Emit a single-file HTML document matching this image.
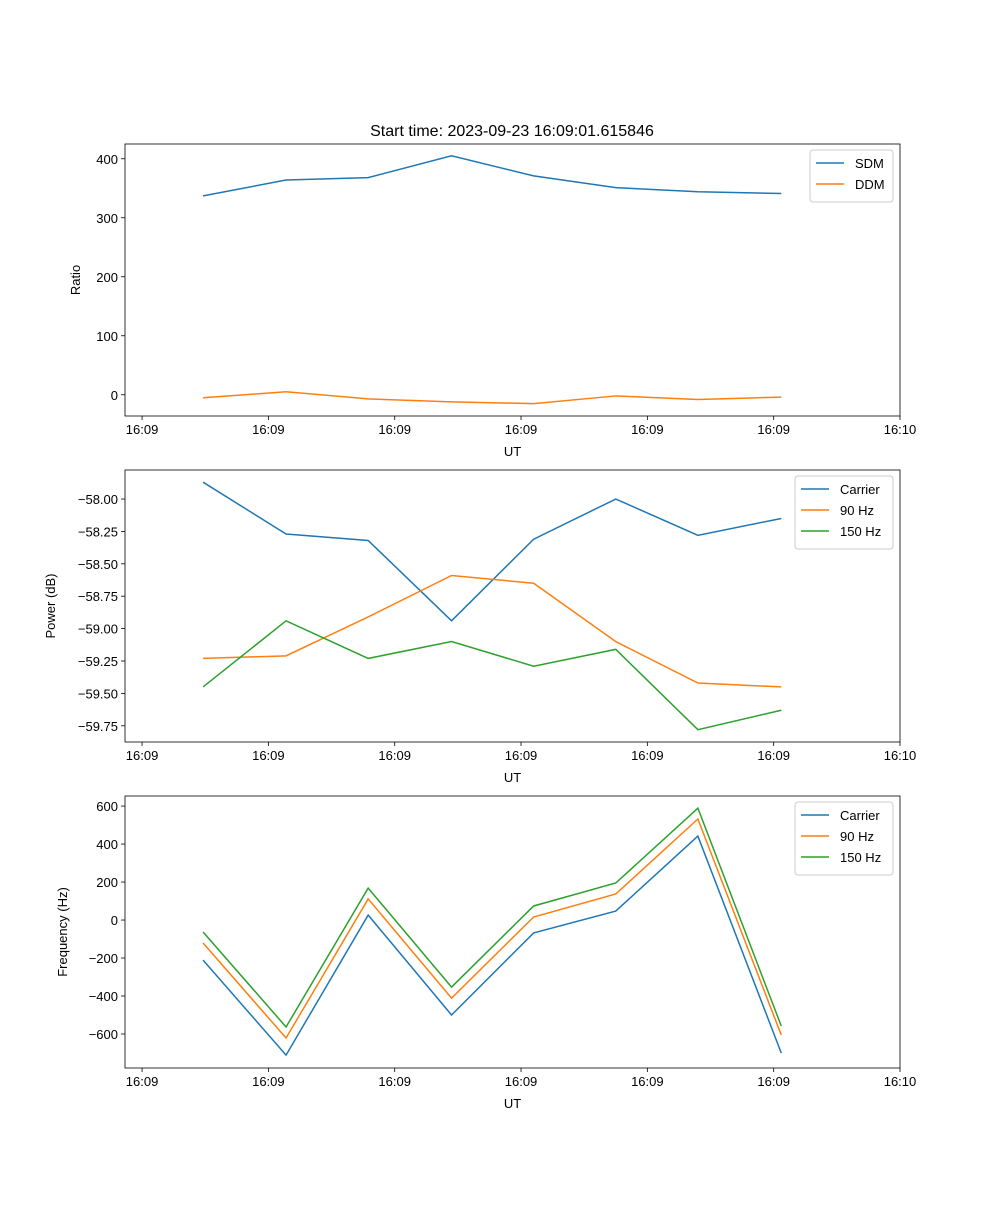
<!DOCTYPE html>
<html><head><meta charset="utf-8"><style>
body{margin:0;background:#fff}
svg text{font-family:"Liberation Sans","DejaVu Sans",sans-serif;fill:#000}
</style></head><body>
<svg id="fig" width="1000" height="1200" viewBox="0 0 1000 1200" xmlns="http://www.w3.org/2000/svg">
<rect width="1000" height="1200" fill="#fff"/>
<text x="512" y="136" font-size="16" text-anchor="middle">Start time: 2023-09-23 16:09:01.615846</text>
</svg>
<script>
// time in seconds after 16:09:00
const times = [4.83, 11.4, 17.9, 24.5, 31.0, 37.5, 44.0, 50.6];
const xTickVals = [0, 10, 20, 30, 40, 50, 60];
const xTickLabels = ['16:09','16:09','16:09','16:09','16:09','16:09','16:10'];
const sdm = [337, 364, 368, 405, 371, 351, 344, 341];
const ddm = [-5, 5, -7, -12, -15, -2, -8, -4];
const powCarrier = [-57.87, -58.27, -58.32, -58.94, -58.31, -58.00, -58.28, -58.15];
const pow90 = [-59.23, -59.21, -58.91, -58.59, -58.65, -59.10, -59.42, -59.45];
const pow150 = [-59.45, -58.94, -59.23, -59.10, -59.29, -59.16, -59.78, -59.63];
const freqCarrier = [-211, -711, 26, -500, -68, 47, 442, -700];
const freq90 = [-121, -621, 111, -411, 16, 137, 532, -605];
const freq150 = [-63, -563, 168, -353, 74, 195, 589, -558];
const ticks1 = [0, 100, 200, 300, 400];
const ticks2 = [-58.00, -58.25, -58.50, -58.75, -59.00, -59.25, -59.50, -59.75];
const ticks3 = [-600, -400, -200, 0, 200, 400, 600];

const NS = 'http://www.w3.org/2000/svg';
const svg = document.getElementById('fig');
const C = ['#1f77b4', '#ff7f0e', '#2ca02c'];
function mk(tag, attrs, parent) {
  const e = document.createElementNS(NS, tag);
  for (const k in attrs) e.setAttribute(k, attrs[k]);
  (parent || svg).appendChild(e);
  return e;
}
const L = 125, R = 900;
const xs = t => L + (t + 1.35) / 61.35 * (R - L) ;
function panel(idx, top, bottom, ymin, ymax, yticks, fmt, ylabel, series, names, legendW) {
  const g = mk('g', {});
  
  
  const ys = v => bottom - (v - ymin) / (ymax - ymin) * (bottom - top);
  // x ticks
  xTickVals.forEach((v, i) => {
    const x = xs(v);
    const t = mk('line', {x1: x, x2: x, y1: bottom, y2: bottom + 4, stroke: '#000', 'stroke-width': 0.8}, g);
    
    
    const tx = mk('text', {x: x, y: bottom + 18, 'font-size': 13, 'text-anchor': 'middle'}, g);
    tx.textContent = xTickLabels[i];
    
    
  });
  const xl = mk('text', {x: (L + R) / 2, y: bottom + 40, 'font-size': 13, 'text-anchor': 'middle'}, g);
  xl.textContent = 'UT';
  
  
  yticks.forEach(v => {
    const y = ys(v);
    const t = mk('line', {x1: L - 4, x2: L, y1: y, y2: y, stroke: '#000', 'stroke-width': 0.8}, g);
    
    
    const tx = mk('text', {x: L - 7, y: y + 5, 'font-size': 13, 'text-anchor': 'end'}, g);
    tx.textContent = fmt(v);
    
    
  });
  const yl = mk('text', {x: 0, y: 0, 'font-size': 13, 'text-anchor': 'middle', transform: `translate(${idx === 2 ? 55 : 80},${(top + bottom) / 2}) rotate(-90)`}, g);
  if (idx === 3) yl.setAttribute('transform', `translate(67,${(top + bottom) / 2}) rotate(-90)`);
  yl.textContent = ylabel;
  
  
  series.forEach((s, i) => {
    const p = mk('polyline', {points: s.map((v, j) => xs(times[j]) + ',' + ys(v)).join(' '), fill: 'none', stroke: C[i], 'stroke-width': 1.5}, g);
    
    
  });
  const fr = mk('rect', {x: L, y: top, width: R - L, height: bottom - top, fill: 'none', stroke: '#000', 'stroke-width': 0.8}, g);
  
  
  // legend
  const lx = R - 7 - legendW, ly = top + 6;
  const lg = mk('g', {}, g);
  
  
  mk('rect', {x: lx, y: ly, width: legendW, height: 10 + names.length * 21, rx: 3, fill: '#fff', 'fill-opacity': 0.8, stroke: '#ccc'}, lg);
  names.forEach((n, i) => {
    const y = ly + 13 + i * 21;
    const ln = mk('line', {x1: lx + 6, x2: lx + 34, y1: y, y2: y, stroke: C[i], 'stroke-width': 1.5}, lg);
    
    
    const t = mk('text', {x: lx + 45, y: y + 5, 'font-size': 13}, lg);
    t.textContent = n;
    
    
  });
}
panel(1, 144, 416, -36, 425, ticks1, v => String(v), 'Ratio', [sdm, ddm], ['SDM', 'DDM'], 83);
panel(2, 470, 742, -59.875, -57.776, ticks2, v => v.toFixed(2).replace('-', '\u2212'), 'Power (dB)', [powCarrier, pow90, pow150], ['Carrier', '90 Hz', '150 Hz'], 98);
panel(3, 796, 1068, -779, 653, ticks3, v => String(v).replace('-', '\u2212'), 'Frequency (Hz)', [freqCarrier, freq90, freq150], ['Carrier', '90 Hz', '150 Hz'], 98);
</script>
</body></html>
